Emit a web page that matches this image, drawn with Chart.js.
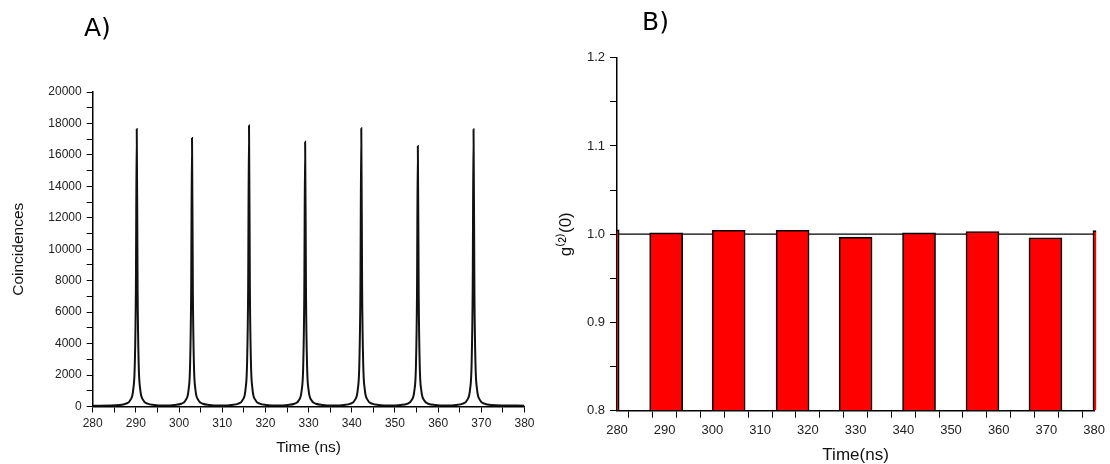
<!DOCTYPE html>
<html>
<head>
<meta charset="utf-8">
<script src="https://cdn.jsdelivr.net/npm/chart.js@4.4.1/dist/chart.umd.min.js"></script>
<style>
  body { margin: 0; background: #fff; }
  #wrap { position: relative; width: 1110px; height: 464px; overflow: hidden; }
  canvas { position: absolute; top: 0; }
  #chartA { left: 0; }
  #chartB { left: 555px; }
  .panel-label { position: absolute; font-family: 'DejaVu Sans', sans-serif; font-size: 25px; line-height: 1; color: #000; }
</style>
</head>
<body>
<div id="wrap">
  <canvas id="chartA" width="555" height="464"></canvas>
  <canvas id="chartB" width="555" height="464"></canvas>
  <div class="panel-label" style="left:84px; top:15px;">A)</div>
  <div class="panel-label" style="left:642px; top:9px;">B)</div>
</div>
<script>
// A) coincidence histogram (time in ns, counts)
const timeNs = [
  280,
  286.2, 287.7, 288.7, 289.4, 289.75, 290.0, 290.2, 290.4, 290.65, 291.0, 291.7, 292.7, 294.2,
  296.6,
  299.0, 300.5, 301.5, 302.2, 302.55, 302.8, 303.0, 303.2, 303.45, 303.8, 304.5, 305.5, 307.0,
  309.6,
  312.2, 313.7, 314.7, 315.4, 315.75, 316.0, 316.2, 316.4, 316.65, 317.0, 317.7, 318.7, 320.2,
  322.7,
  325.2, 326.7, 327.7, 328.4, 328.75, 329.0, 329.2, 329.4, 329.65, 330.0, 330.7, 331.7, 333.2,
  335.7,
  338.2, 339.7, 340.7, 341.4, 341.75, 342.0, 342.2, 342.4, 342.65, 343.0, 343.7, 344.7, 346.2,
  348.75,
  351.3, 352.8, 353.8, 354.5, 354.85, 355.1, 355.3, 355.5, 355.75, 356.1, 356.8, 357.8, 359.3,
  361.75,
  364.2, 365.7, 366.7, 367.4, 367.75, 368.0, 368.2, 368.4, 368.65, 369.0, 369.7, 370.7, 372.2,
  380
];
const coincidences = [
  50,
  95, 180, 400, 1100, 2700, 7400, 17650, 7400, 2700, 1100, 400, 180, 95,
  60,
  95, 175, 390, 1060, 2600, 7200, 17080, 7200, 2600, 1060, 390, 175, 95,
  60,
  95, 180, 400, 1110, 2750, 7500, 17870, 7500, 2750, 1110, 400, 180, 95,
  60,
  95, 175, 385, 1040, 2550, 7100, 16840, 7100, 2550, 1040, 385, 175, 95,
  60,
  95, 180, 400, 1100, 2700, 7400, 17700, 7400, 2700, 1100, 400, 180, 95,
  60,
  95, 170, 380, 1020, 2500, 7000, 16570, 7000, 2500, 1020, 380, 170, 95,
  60,
  95, 180, 400, 1100, 2700, 7400, 17630, 7400, 2700, 1100, 400, 180, 95,
  55
];

// B) g2(0) bars: centre time (ns) and height
const barTimes = [277.0, 290.3, 303.4, 316.8, 330.0, 343.3, 356.6, 369.8, 383.2];
const g2Values = [1.005, 1.0015, 1.0045, 1.0045, 0.9966, 1.0015, 1.003, 0.996, 1.004];
const refLineTimes = [280, 380];
const refLineValues = [1.0, 1.0];

const fontFamily = "'Liberation Sans', Arial, sans-serif";

function axisStyle(tickLen) {
  return {
    grid: { drawOnChartArea: false, drawTicks: true, tickLength: tickLen, color: '#000', lineWidth: 1 },
    border: { display: true, color: '#000', width: 1.5 }
  };
}

new Chart(document.getElementById('chartA'), {
  type: 'line',
  data: {
    datasets: [{
      data: timeNs.map((t, i) => ({ x: t, y: coincidences[i] })),
      borderColor: '#111',
      borderWidth: 2,
      pointRadius: 0,
      cubicInterpolationMode: 'monotone',
      fill: false
    }]
  },
  options: {
    responsive: false,
    animation: false,
    devicePixelRatio: 1,
    layout: { padding: { top: 92, right: 30.5, left: 0, bottom: 0 } },
    plugins: { legend: { display: false }, tooltip: { enabled: false } },
    scales: {
      x: {
        type: 'linear',
        min: 280,
        max: 380,
        ...axisStyle(6),
        ticks: {
          stepSize: 5,
          autoSkip: false,
          maxRotation: 0,
          padding: 4,
          color: '#222',
          font: { family: fontFamily, size: 12 },
          callback: v => (v % 10 === 0 ? String(v) : '')
        },
        title: {
          display: true,
          text: 'Time (ns)',
          color: '#111',
          font: { family: fontFamily, size: 15.5 },
          padding: { top: 0, bottom: 6.5 }
        },
        afterFit: s => { s.height = 57.5; }
      },
      y: {
        min: 0,
        max: 20000,
        ...axisStyle(6),
        ticks: {
          stepSize: 1000,
          autoSkip: false,
          padding: 5,
          color: '#222',
          font: { family: fontFamily, size: 12 },
          callback: v => (v % 2000 === 0 ? String(v) : '')
        },
        title: {
          display: true,
          text: 'Coincidences',
          color: '#111',
          font: { family: fontFamily, size: 15.5 },
          padding: { top: 9.5, bottom: 0 }
        },
        afterFit: s => { s.width = 92.7; }
      }
    }
  }
});

new Chart(document.getElementById('chartB'), {
  type: 'bar',
  data: {
    datasets: [{
      type: 'line',
      data: refLineTimes.map((t, i) => ({ x: t, y: refLineValues[i] })),
      borderColor: '#000',
      borderWidth: 1.3,
      pointRadius: 0,
      order: 2
    }, {
      type: 'bar',
      data: barTimes.map((t, i) => ({ x: t, y: g2Values[i] })),
      backgroundColor: '#ff0000',
      borderColor: '#000',
      borderWidth: 1.6,
      borderSkipped: 'start',
      barThickness: 33,
      base: 0.8,
      clip: { left: 0, right: 2, top: 10, bottom: 0 },
      order: 1
    }]
  },
  options: {
    responsive: false,
    animation: false,
    devicePixelRatio: 1,
    layout: { padding: { top: 57.7, right: 13, left: 0, bottom: 0 } },
    plugins: { legend: { display: false }, tooltip: { enabled: false } },
    scales: {
      x: {
        type: 'linear',
        min: 280,
        max: 380,
        offset: false,
        ...axisStyle(7),
        ticks: {
          stepSize: 5,
          autoSkip: false,
          maxRotation: 0,
          padding: 5,
          color: '#222',
          font: { family: fontFamily, size: 13 },
          callback: v => (v % 10 === 0 ? String(v) : '')
        },
        title: {
          display: true,
          text: 'Time(ns)',
          color: '#111',
          font: { family: fontFamily, size: 17, lineHeight: 1 },
          padding: { top: 0, bottom: 0 }
        },
        afterFit: s => { s.height = 53.3; }
      },
      y: {
        min: 0.8,
        max: 1.2,
        ...axisStyle(7),
        ticks: {
          stepSize: 0.05,
          autoSkip: false,
          padding: 5,
          color: '#222',
          font: { family: fontFamily, size: 13 },
          callback: v => (Math.round(v * 100) % 10 === 0 ? v.toFixed(1) : '')
        },
        title: {
          display: true,
          text: 'g⁽²⁾(0)',
          color: '#111',
          font: { family: fontFamily, size: 17, lineHeight: 1 },
          padding: { top: 3, bottom: 0 }
        },
        afterFit: s => { s.width = 62; }
      }
    }
  }
});
</script>
</body>
</html>
